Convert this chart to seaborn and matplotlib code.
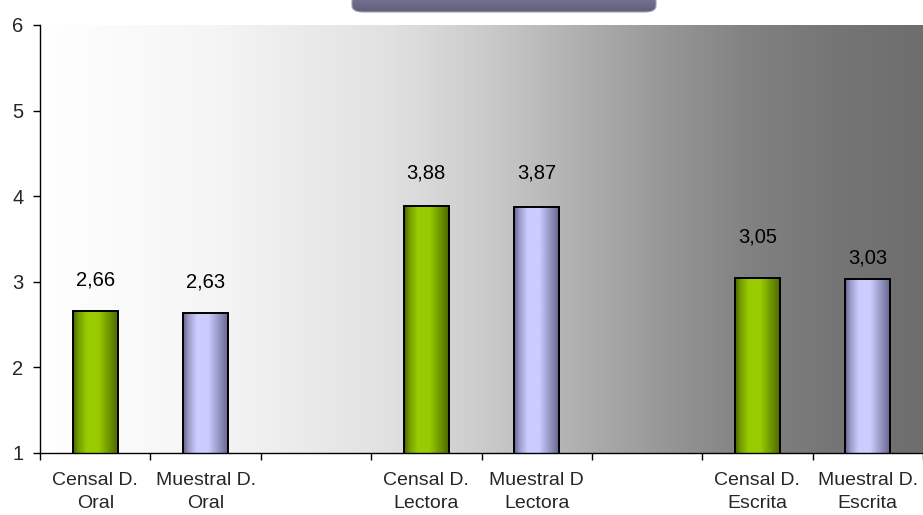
import numpy as np
import pandas as pd
import matplotlib
matplotlib.use("Agg")
import matplotlib.pyplot as plt
from matplotlib.patches import FancyBboxPatch
import seaborn as sns

# Category slots (blank slots separate the three groups)
categories = ["Censal D.\nOral", "Muestral D.\nOral", "",
              "Censal D.\nLectora", "Muestral D\nLectora", " ",
              "Censal D.\nEscrita", "Muestral D.\nEscrita"]
bar_labels = ["Censal D.\nOral", "Muestral D.\nOral",
              "Censal D.\nLectora", "Muestral D\nLectora",
              "Censal D.\nEscrita", "Muestral D.\nEscrita"]
series = ["Censal", "Muestral", "Censal", "Muestral", "Censal", "Muestral"]
values = [2.66, 2.63, 3.88, 3.87, 3.05, 3.03]
value_text = ["2,66", "2,63", "3,88", "3,87", "3,05", "3,03"]
y_ticks = [1, 2, 3, 4, 5, 6]

df = pd.DataFrame({"categoria": bar_labels, "serie": series, "valor": values})

sns.set_theme(style="white")
plt.rcParams["font.family"] = ["Liberation Sans", "DejaVu Sans"]

fig = plt.figure(figsize=(9.23, 5.15), dpi=100)
ax = fig.add_axes([40 / 923, 62 / 515, 883 / 923, 428 / 515])

palette = {"Censal": "#99cc00", "Muestral": "#ccccff"}
sns.barplot(data=df, x="categoria", y="valor", hue="serie", order=categories,
            palette=palette, dodge=False, width=0.41, legend=False,
            edgecolor="black", linewidth=1.4, ax=ax, zorder=3)

YMIN, YMAX = 1, 6
ax.set_xlim(-0.5, len(categories) - 0.5)
ax.set_ylim(YMIN, YMAX)

# Horizontal grey background gradient of the plot area
stops_x = [0.0, 0.2, 0.4, 0.5, 0.6, 0.7, 0.8, 0.9, 1.0]
stops_v = [1.0, 0.96, 0.88, 0.80, 0.70, 0.60, 0.51, 0.46, 0.43]
xs = np.linspace(0, 1, 600)
shade = np.interp(xs, stops_x, stops_v)
bg = np.stack([shade, shade, shade], axis=-1)[None, :, :].repeat(2, axis=0)
ax.imshow(bg, extent=[-0.5, len(categories) - 0.5, YMIN, YMAX], aspect="auto",
          zorder=0, interpolation="bilinear")

# Cylinder-like shading inside each bar
def cylinder(base, dark):
    t = np.linspace(0, 1, 200)
    prof = np.interp(t, [0, 0.12, 0.3, 0.55, 0.8, 1.0],
                     [0.0, 0.55, 1.0, 1.0, 0.45, 0.0])
    base = np.array(matplotlib.colors.to_rgb(base))
    dark = np.array(matplotlib.colors.to_rgb(dark))
    row = dark[None, :] + (base - dark)[None, :] * prof[:, None]
    return row[None, :, :].repeat(2, axis=0)

grad = {"Censal": cylinder("#99cc00", "#4a6300"),
        "Muestral": cylinder("#ccccff", "#62628a")}

bars = [p for p in ax.patches if p.get_height() > 0]
bars.sort(key=lambda p: p.get_x())
for p, s in zip(bars, series):
    x0, w, h = p.get_x(), p.get_width(), p.get_height()
    im = ax.imshow(grad[s], extent=[x0, x0 + w, YMIN, h], aspect="auto",
                   zorder=3.5, interpolation="bilinear")
    im.set_clip_path(p)
    p.set_facecolor("none")
    p.set_zorder(4)

# Value labels above the bars
label_offsets = [22, 23, 24, 24.5, 29.5, 15.5]
for p, txt, off in zip(bars, value_text, label_offsets):
    ax.annotate(txt, (p.get_x() + p.get_width() / 2, p.get_height()),
                xytext=(0, off), textcoords="offset points",
                ha="center", va="center", fontsize=14.5, color="black",
                zorder=6, annotation_clip=False)

ax.set_ylim(YMIN, YMAX)
ax.set_xlim(-0.5, len(categories) - 0.5)

# Axes styling: ticks at slot boundaries, labels centred in slots
ax.set_yticks(y_ticks)
ax.set_yticklabels([str(v) for v in y_ticks], fontsize=14.5)
ax.set_xticks(np.arange(len(categories) + 1) - 0.5)
ax.set_xticklabels([])
ax.set_xticks(np.arange(len(categories)), minor=True)
ax.set_xticklabels(categories, minor=True, fontsize=14, linespacing=1.4)
ax.tick_params(axis="x", which="minor", length=0, pad=14)
ax.tick_params(axis="x", which="major", length=5, width=1, color="black",
               direction="out", bottom=True)
ax.tick_params(axis="y", length=5, width=1, color="black", direction="out",
               left=True, pad=7)
ax.set_xlabel("")
ax.set_ylabel("")
for side in ["top", "right"]:
    ax.spines[side].set_visible(False)
for side in ["left", "bottom"]:
    ax.spines[side].set_color("black")
    ax.spines[side].set_linewidth(1.0)
    ax.spines[side].set_zorder(5)

# Title banner at the top edge
fw, fh = 923, 515
tb = np.linspace(0, 1, 50)
col_top = np.array(matplotlib.colors.to_rgb("#8c8cab"))
col_bot = np.array(matplotlib.colors.to_rgb("#5f5f7c"))
bimg = (col_top[None, :] + (col_bot - col_top)[None, :] * tb[:, None])[:, None, :].repeat(2, axis=1)
bax = fig.add_axes([0, 0, 1, 1], zorder=11)
bax.set_axis_off()
banner = FancyBboxPatch((352 / fw, 1 - 12 / fh), 304 / fw, 30 / fh,
                        boxstyle="round,pad=0,rounding_size=0.012",
                        transform=bax.transAxes, facecolor="none",
                        edgecolor="#a0a0b8", linewidth=0.8, zorder=3)
bax.add_patch(banner)
bim = bax.imshow(bimg, extent=[352 / fw, 656 / fw, 1 - 12 / fh, 1 + 18 / fh],
                 aspect="auto", interpolation="bilinear", zorder=2)
bax.set_xlim(0, 1)
bax.set_ylim(0, 1)
bim.set_clip_path(banner)

fig.savefig("out.png", dpi=100, facecolor="white")
